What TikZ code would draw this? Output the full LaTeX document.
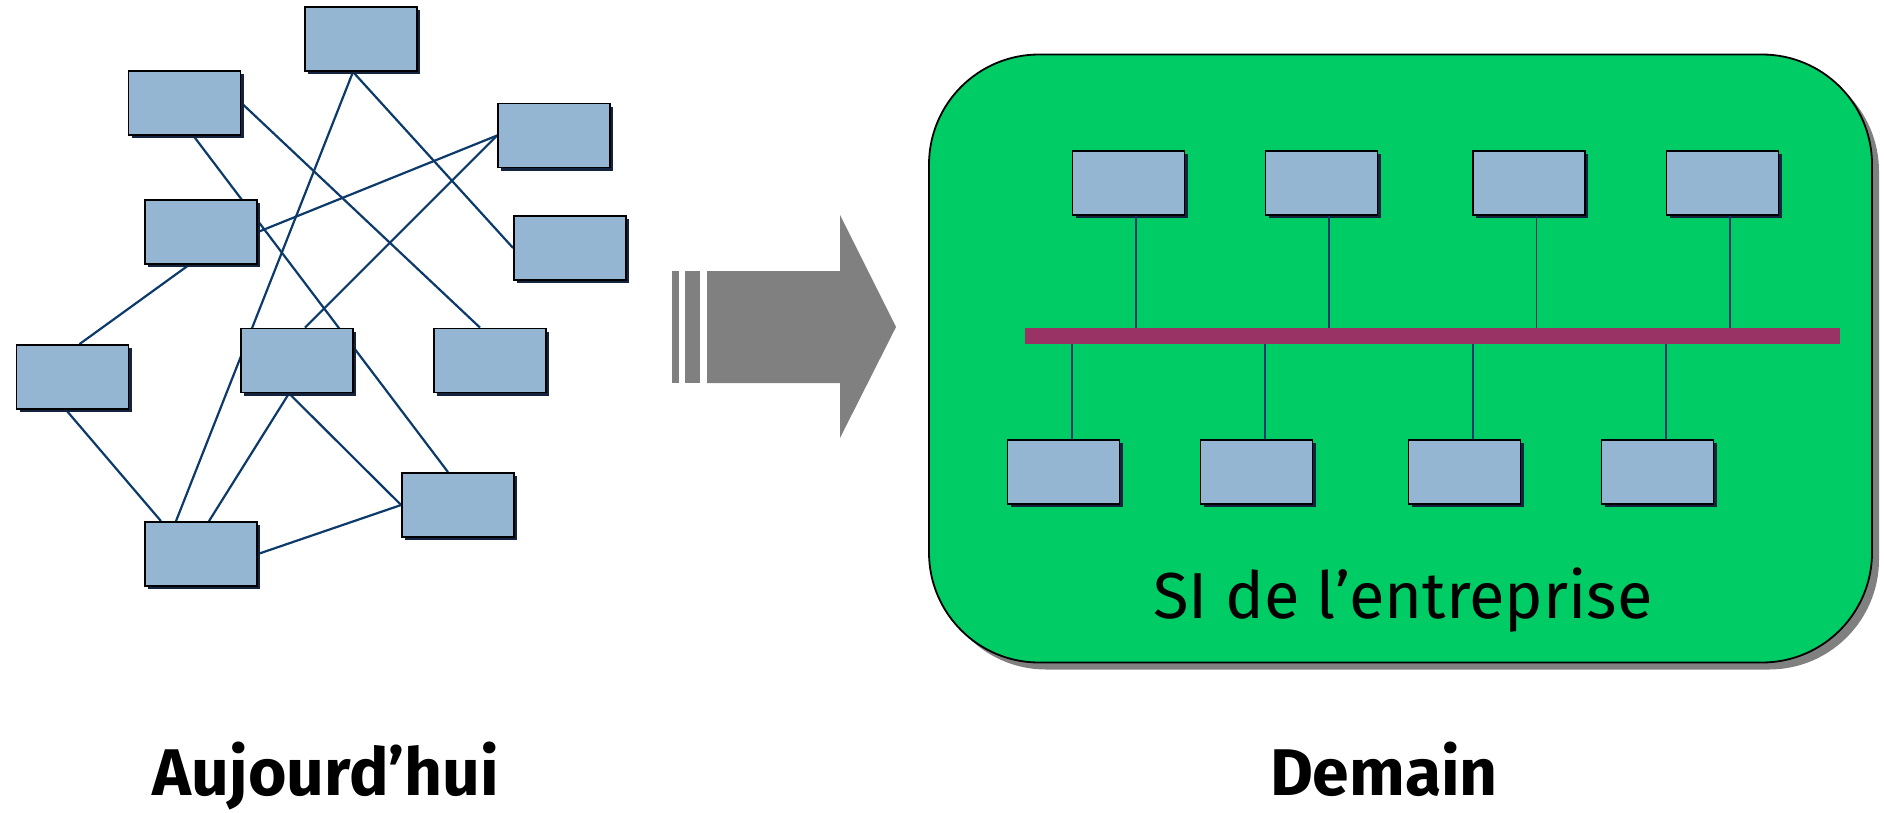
\documentclass[tikz,border=0pt]{standalone}
\usepackage{fontspec}
\setmainfont{Fira Sans}
\usetikzlibrary{shadows}
\pgfdeclarelayer{background}
\pgfsetlayers{background,main}
\definecolor{boxfill}{HTML}{94B6D2}
\definecolor{boxshade}{HTML}{14243F}
\definecolor{linkc}{HTML}{0B3A6B}
\definecolor{sigreen}{HTML}{00CC66}
\definecolor{busc}{HTML}{993366}
\definecolor{arrowc}{HTML}{808080}
\tikzset{
  appbox/.style={draw=black, line width=1.8pt, fill=boxfill, inner sep=0pt,
    minimum width=112pt, minimum height=64pt,
    drop shadow={shadow xshift=3pt, shadow yshift=-3pt, fill=boxshade, opacity=1}},
  link/.style={draw=linkc, line width=2.2pt},
  tap/.style={draw=linkc, line width=1.8pt},
  caption/.style={font=\fontsize{66}{70}\selectfont\bfseries, anchor=base, inner sep=0pt},
}
\begin{document}
\begin{tikzpicture}[x=1pt,y=-1pt]
\useasboundingbox (0,0) rectangle (1884,812);

% ---- left: point-to-point applications ----
\node[appbox] (b1)  at (361,39)    {};
\node[appbox] (b2)  at (184.5,103) {};
\node[appbox] (b3)  at (554,135.5) {};
\node[appbox] (b4)  at (201,232)   {};
\node[appbox] (b5)  at (570,248)   {};
\node[appbox] (b6)  at (72.5,377)  {};
\node[appbox] (b7)  at (297,360.5) {};
\node[appbox] (b8)  at (490,360.5) {};
\node[appbox] (b9)  at (458,505)   {};
\node[appbox] (b10) at (201,554)   {};

\begin{pgfonlayer}{background}
\draw[link] ([xshift=9pt]b2.south)   -- ([xshift=-10pt]b9.north);
\draw[link] ([xshift=-8pt]b1.south)  -- ([xshift=-25pt]b10.north);
\draw[link] ([xshift=-8pt]b1.south)  -- (b5.west);
\draw[link] (b2.east)                -- ([xshift=-10pt]b8.north);
\draw[link] (b3.west)                -- (b4.east);
\draw[link] (b3.west)                -- ([xshift=8pt]b7.north);
\draw[link] ([xshift=-12pt]b4.south) -- ([xshift=7pt]b6.north);
\draw[link] ([xshift=-6.5pt]b6.south) -- ([xshift=-40pt]b10.north);
\draw[link] ([xshift=-8pt]b7.south)  -- ([xshift=8pt]b10.north);
\draw[link] ([xshift=-8pt]b7.south)  -- (b9.west);
\draw[link] (b10.east)               -- (b9.west);
\end{pgfonlayer}

% ---- transition arrow ----
\fill[arrowc] (672,271) rectangle (679,383);
\fill[arrowc] (685,271) rectangle (700,383);
\fill[arrowc] (707,271) -- (840,271) -- (840,215) -- (896,327)
  -- (840,438) -- (840,383) -- (707,383) -- cycle;

% ---- right: enterprise information system with a bus ----
\node[draw=black, line width=1.8pt, fill=sigreen, rounded corners=110pt,
  minimum width=943pt, minimum height=608pt, inner sep=0pt,
  drop shadow={shadow xshift=7pt, shadow yshift=-7pt, fill=arrowc, opacity=1}]
  (si) at (1400.5,358.5) {};

\node[fill=busc, inner sep=0pt, minimum width=815pt, minimum height=16pt]
  (bus) at (1432.5,336) {};

\node[appbox] (t1) at (1128.5,183) {};
\node[appbox] (t2) at (1321.5,183) {};
\node[appbox] (t3) at (1529,183)   {};
\node[appbox] (t4) at (1722.5,183) {};
\node[appbox] (u1) at (1063.5,472) {};
\node[appbox] (u2) at (1256.5,472) {};
\node[appbox] (u3) at (1464.5,472) {};
\node[appbox] (u4) at (1657.5,472) {};

\foreach \n in {t1,t2,t3,t4}
  \draw[tap] ([xshift=7.5pt]\n.south) -- ([xshift=7.5pt]\n.south |- bus.north);
\foreach \n in {u1,u2,u3,u4}
  \draw[tap] ([xshift=8.5pt]\n.north) -- ([xshift=8.5pt]\n.north |- bus.south);

\node[anchor=base, inner sep=0pt, font=\fontsize{65}{68}\selectfont]
  (silabel) at (1403,618) {SI de l’entreprise};

% ---- captions ----
\node[caption] (today) at (326,795)  {Aujourd’hui};
\node[caption] (tomorrow) at (1384,795) {Demain};
\end{tikzpicture}
\end{document}
